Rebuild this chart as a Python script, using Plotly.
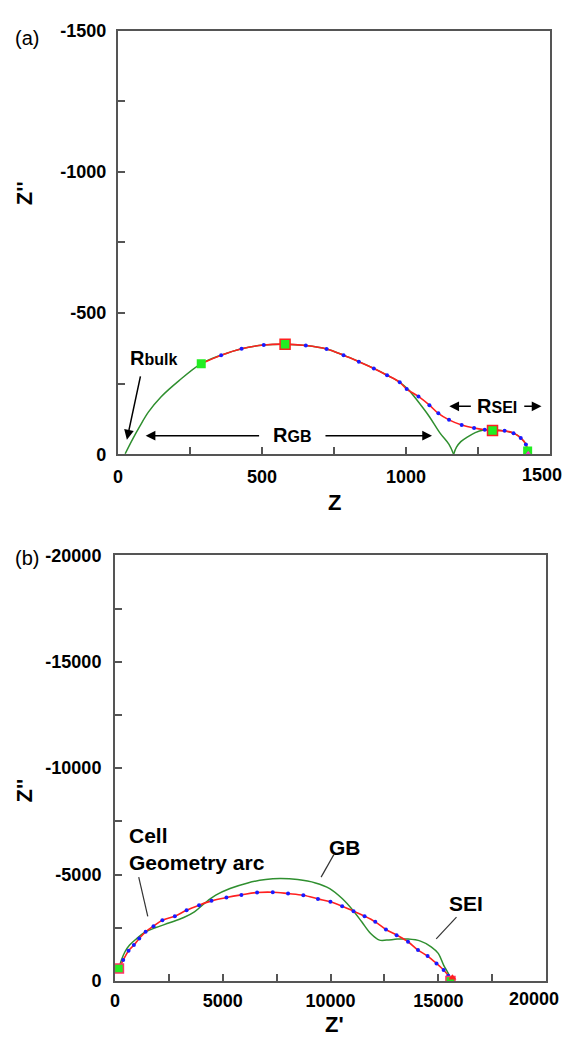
import plotly.graph_objects as go

# ---------------- data: panel (a) ----------------
exp_a_x = [289, 358, 429, 506, 580, 652, 724, 783, 836, 888, 934, 978, 1002, 1043,
           1081, 1112, 1149, 1193, 1236, 1273, 1304, 1342, 1373, 1398, 1416, 1424]
exp_a_y = [-321, -351, -374, -387, -390, -385, -373, -351, -328, -304, -280, -255, -231, -205,
           -174, -145, -122, -104, -93, -87, -84, -83, -75, -58, -35, -2]
gb_a_x = [25, 50, 75, 106, 149, 211, 289, 358, 429, 506, 580, 652, 724, 783, 836, 888,
          934, 978, 1008, 1043, 1081, 1118, 1149, 1165]
gb_a_y = [-2, -52, -98, -150, -203, -260, -321, -351, -374, -387, -390, -385, -373, -351, -328, -304,
          -280, -255, -229, -185, -133, -75, -35, 0]
sei_a_x = [1165, 1175, 1190, 1214, 1240, 1270, 1300, 1340, 1375, 1400, 1415, 1424]
sei_a_y = [0, -25, -45, -62, -77, -86, -88, -83, -74, -56, -36, 0]
sq_a_x = [289, 1422]
sq_a_y = [-321, -12]
sqr_a_x = [580, 1300]
sqr_a_y = [-390, -84]

# ---------------- data: panel (b) ----------------
exp_b_x = [182, 380, 628, 875, 1123, 1420, 1784, 2196, 2775, 3320, 3898, 4476, 5169, 5863,
           6590, 7316, 8026, 8736, 9414, 9992, 10537, 11065, 11577, 12072, 12568, 13063,
           13592, 14054, 14500, 14913, 15243, 15458, 15541]
exp_b_y = [-594, -984, -1422, -1688, -2000, -2313, -2578, -2859, -3047, -3328, -3563, -3766, -3922, -4047,
           -4156, -4172, -4109, -4031, -3859, -3719, -3516, -3281, -3047, -2781, -2422, -2156,
           -1844, -1453, -1172, -828, -516, -250, -47]
fit_b_x = [182, 297, 462, 677, 958, 1371, 1866, 2527, 3188, 3683, 4178, 4673, 5334, 6160, 6986,
           7646, 8472, 9298, 9959, 10537, 11032, 11445, 11858, 12270, 12601, 13096, 13592, 14170,
           14665, 14995, 15243, 15458, 15574]
fit_b_y = [-594, -984, -1375, -1688, -1953, -2281, -2500, -2734, -2984, -3250, -3672, -4031, -4344, -4609, -4766,
           -4813, -4766, -4609, -4344, -3875, -3328, -2781, -2234, -1922, -1922, -1969, -1969, -1875,
           -1609, -1297, -750, -359, -47]
sq_b_x = [182, 15560]
sq_b_y = [-594, 0]

ticks_a = [0, 500, 1000, 1500]
ticks_a_y = [0, -500, -1000, -1500]
ticks_b = [0, 5000, 10000, 15000, 20000]
ticks_b_y = [0, -5000, -10000, -15000, -20000]

GREEN = '#2f8f2f'
RED = '#ff2020'
BLUE = '#1a1aff'
SQ = '#22ee22'
FONT = 'Liberation Sans'

fig = go.Figure()

def add_panel(xa, ya, xs_fit, ys_fit, xs_exp, ys_exp):
    for fx, fy in zip(xs_fit, ys_fit):
        fig.add_trace(go.Scatter(x=fx, y=fy, mode='lines', line=dict(color=GREEN, width=1.5, shape='spline'),
                                 xaxis=xa, yaxis=ya, showlegend=False, hoverinfo='skip'))
    fig.add_trace(go.Scatter(x=xs_exp, y=ys_exp, mode='lines+markers',
                             line=dict(color=RED, width=1.6, shape='spline'),
                             marker=dict(color=BLUE, size=4),
                             xaxis=xa, yaxis=ya, showlegend=False))

add_panel('x', 'y', [gb_a_x, sei_a_x], [gb_a_y, sei_a_y], exp_a_x, exp_a_y)
fig.add_trace(go.Scatter(x=sq_a_x, y=sq_a_y, mode='markers', xaxis='x', yaxis='y', showlegend=False,
                         marker=dict(symbol='square', color=SQ, size=9)))
fig.add_trace(go.Scatter(x=sqr_a_x, y=sqr_a_y, mode='markers', xaxis='x', yaxis='y', showlegend=False,
                         marker=dict(symbol='square', color=SQ, size=10, line=dict(color=RED, width=1.5))))
fig.add_trace(go.Scatter(x=[1424], y=[0], mode='markers', xaxis='x', yaxis='y', showlegend=False,
                         marker=dict(symbol='triangle-up', color='#ff33cc', size=7)))

add_panel('x2', 'y2', [fit_b_x], [fit_b_y], exp_b_x, exp_b_y)
fig.add_trace(go.Scatter(x=sq_b_x, y=sq_b_y, mode='markers', xaxis='x2', yaxis='y2', showlegend=False,
                         marker=dict(symbol='square', color=SQ, size=9, line=dict(color='#ff3366', width=1.5))))
fig.add_trace(go.Scatter(x=[15650], y=[-150], mode='markers', xaxis='x2', yaxis='y2', showlegend=False,
                         marker=dict(symbol='triangle-up', color=RED, size=7)))

tickfont = dict(family=FONT, size=18, color='black', weight='bold')
axis_common = dict(showline=True, linecolor='#555555', linewidth=2, mirror=True, ticks='inside',
                   ticklen=7, tickwidth=1.5, tickcolor='#555555', showgrid=False, zeroline=False,
                   tickfont=tickfont)

W, H = 564, 1043
fig.update_layout(
    width=W, height=H, margin=dict(l=0, r=0, t=0, b=0),
    paper_bgcolor='white', plot_bgcolor='white', showlegend=False,
    xaxis=dict(domain=[114 / W, 550 / W], anchor='y', range=[0, 1500], tickvals=ticks_a,
               ticktext=[str(v) for v in ticks_a[:-1]] + [''], ticklabelstandoff=5,
               minor=dict(dtick=250, ticks='inside', ticklen=7, tickcolor='#555555', tickwidth=1.5),
               **axis_common),
    yaxis=dict(domain=[1 - 453 / H, 1 - 21 / H], anchor='x', range=[0, -1500], tickvals=ticks_a_y,
               ticktext=[str(v) for v in ticks_a_y], ticklabelstandoff=6,
               minor=dict(tickvals=[-250, -750, -1250], ticks='inside', ticklen=7, tickcolor='#555555', tickwidth=1.5),
               **axis_common),
    xaxis2=dict(domain=[111 / W, 546 / W], anchor='y2', range=[0, 20000], tickvals=ticks_b,
                ticktext=[str(v) for v in ticks_b[:-1]] + [''], ticklabelstandoff=2,
                minor=dict(dtick=2500, ticks='inside', ticklen=7, tickcolor='#555555', tickwidth=1.5),
                **axis_common),
    yaxis2=dict(domain=[1 - 990 / H, 1 - 556 / H], anchor='x2', range=[0, -20000], tickvals=ticks_b_y,
                ticktext=[str(v) for v in ticks_b_y], ticklabelstandoff=8,
                minor=dict(tickvals=[-2500, -7500, -12500, -17500], ticks='inside', ticklen=7,
                           tickcolor='#555555', tickwidth=1.5),
                **axis_common),
)

def ptext(x, y, text, size, bold=True, angle=0, xanchor='center'):
    fig.add_annotation(x=x / W, y=1 - y / H, xref='paper', yref='paper', text=text, showarrow=False,
                       textangle=angle, xanchor=xanchor, yanchor='middle',
                       font=dict(family=FONT, size=size, color='black', weight='bold' if bold else 'normal'))

# panel labels, axis titles and right-edge tick labels shifted inward as in the reference
ptext(22, 29, '(a)', 20, bold=False)
ptext(22, 559, '(b)', 20, bold=False)
ptext(332, 502, 'Z', 22)
ptext(20, 187, "Z''", 22, angle=-90)
ptext(332, 1034, "Z'", 22)
ptext(20, 796, "Z''", 22, angle=-90)
ptext(542, 474, str(ticks_a[-1]), 18)
ptext(534, 1008, str(ticks_b[-1]), 18)

# panel (a) annotations
def dtext(x, y, text, xa, ya, size=20, xanchor='center'):
    fig.add_annotation(x=x, y=y, xref=xa, yref=ya, text=text, showarrow=False, xanchor=xanchor,
                       font=dict(family=FONT, size=size, color='black', weight='bold'))

def arrow(x0, y0, x1, y1, xa, ya, head=2):
    fig.add_annotation(x=x1, y=y1, ax=x0, ay=y0, xref=xa, yref=ya, axref=xa, ayref=ya, text='',
                       showarrow=True, arrowhead=head, arrowsize=1.3, arrowwidth=1.5, arrowcolor='black')

dtext(35, -340, "R<span style='font-size:16px'>bulk</span>", 'x', 'y', xanchor='left')
arrow(79, -281, 31, -52, 'x', 'y')
dtext(605, -70, "R<span style='font-size:16px'>GB</span>", 'x', 'y')
arrow(495, -66, 96, -66, 'x', 'y')
arrow(715, -66, 1090, -66, 'x', 'y')
dtext(1317, -172, "R<span style='font-size:16px'>SEI</span>", 'x', 'y')
arrow(1230, -170, 1150, -170, 'x', 'y')
arrow(1405, -170, 1470, -170, 'x', 'y')

# panel (b) annotations
dtext(550, -6860, 'Cell', 'x2', 'y2', size=21, xanchor='left')
dtext(550, -5570, 'Geometry arc', 'x2', 'y2', size=21, xanchor='left')
dtext(10650, -6280, 'GB', 'x2', 'y2', size=21)
dtext(16300, -3620, 'SEI', 'x2', 'y2', size=21)
for (x0, y0, x1, y1) in [(1100, -4880, 1520, -3040), (10150, -5940, 9560, -4880), (15840, -3000, 14900, -1980)]:
    fig.add_shape(type='line', x0=x0, y0=y0, x1=x1, y1=y1, xref='x2', yref='y2',
                  line=dict(color='#333333', width=1.2))

fig.write_html('out.html')
